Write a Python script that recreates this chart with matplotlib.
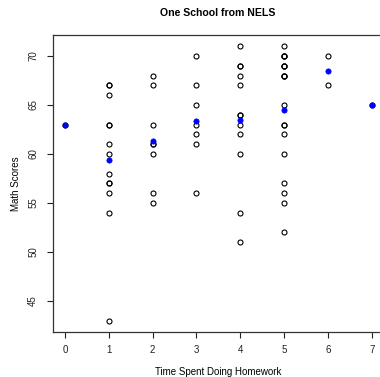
import numpy as np
import matplotlib
matplotlib.use("Agg")
from matplotlib import pyplot as plt

plt.rcParams['font.family'] = ['Liberation Sans', 'DejaVu Sans']

# homework hours and math scores, one list per hour value
hours = [0, 1, 2, 3, 4, 5, 6, 7]
scores = [
    [63],
    [67, 67, 66, 63, 63, 61, 60, 58, 57, 57, 56, 54, 43],
    [68, 67, 63, 61, 61, 60, 56, 55],
    [70, 67, 65, 63, 62, 61, 56],
    [71, 69, 69, 68, 67, 64, 64, 63, 62, 60, 54, 51],
    [71, 70, 70, 70, 69, 69, 69, 68, 68, 68, 65, 63, 63, 62, 60, 57, 56, 55, 52],
    [70, 67],
    [65],
]
# group means (blue dots)
mean_scores = [63.0, 59.4, 61.3, 63.4, 63.5, 64.5, 68.5, 65.0]

xticks = [0, 1, 2, 3, 4, 5, 6, 7]
yticks = [45, 50, 55, 60, 65, 70]

fig = plt.figure(figsize=(3.8, 3.77), dpi=100)
ax = fig.add_axes([0.1387, 0.1204, 0.8718, 0.7862])

#flatten into x/y pairs
xs = []
ys = []
for h, vals in zip(hours, scores):
    for v in vals:
        xs.append(h)
        ys.append(v)

ax.plot(xs, ys, linestyle="none", marker="o", markersize=3.6,
        markerfacecolor="none", markeredgecolor="black", markeredgewidth=0.8)
ax.plot(hours, mean_scores, linestyle="none", marker="o", markersize=3.8,
        markerfacecolor="#0000ff", markeredgecolor="#0000ff", markeredgewidth=0.5)

#R style axis ranges (4% padding)
allx = np.array(xs)
ally = np.array(ys)
px = 0.04 * (allx.max() - allx.min())
py = 0.04 * (ally.max() - ally.min())
ax.set_xlim(allx.min() - px, allx.max() + px)
ax.set_ylim(ally.min() - py, ally.max() + py)

ax.set_xticks(xticks)
ax.set_yticks(yticks)
ax.tick_params(direction="out", length=4.5, width=0.8, labelsize=7, colors="#222222")
ax.tick_params(axis="x", pad=5.5)
ax.tick_params(axis="y", pad=6)
for lab in ax.get_yticklabels():
    lab.set_rotation(90)
    lab.set_va("center")

for s in ax.spines.values():
    s.set_linewidth(0.9)
    s.set_color("#333333")

ax.set_xlabel("Time Spent Doing Homework", fontsize=7, labelpad=8.5)
ax.set_ylabel("Math Scores", fontsize=7, labelpad=5)
fig.text(0.574, 0.966, "One School from NELS", fontsize=7.6, fontweight="bold",
         ha="center", va="center")

fig.savefig("out.png", dpi=100)
